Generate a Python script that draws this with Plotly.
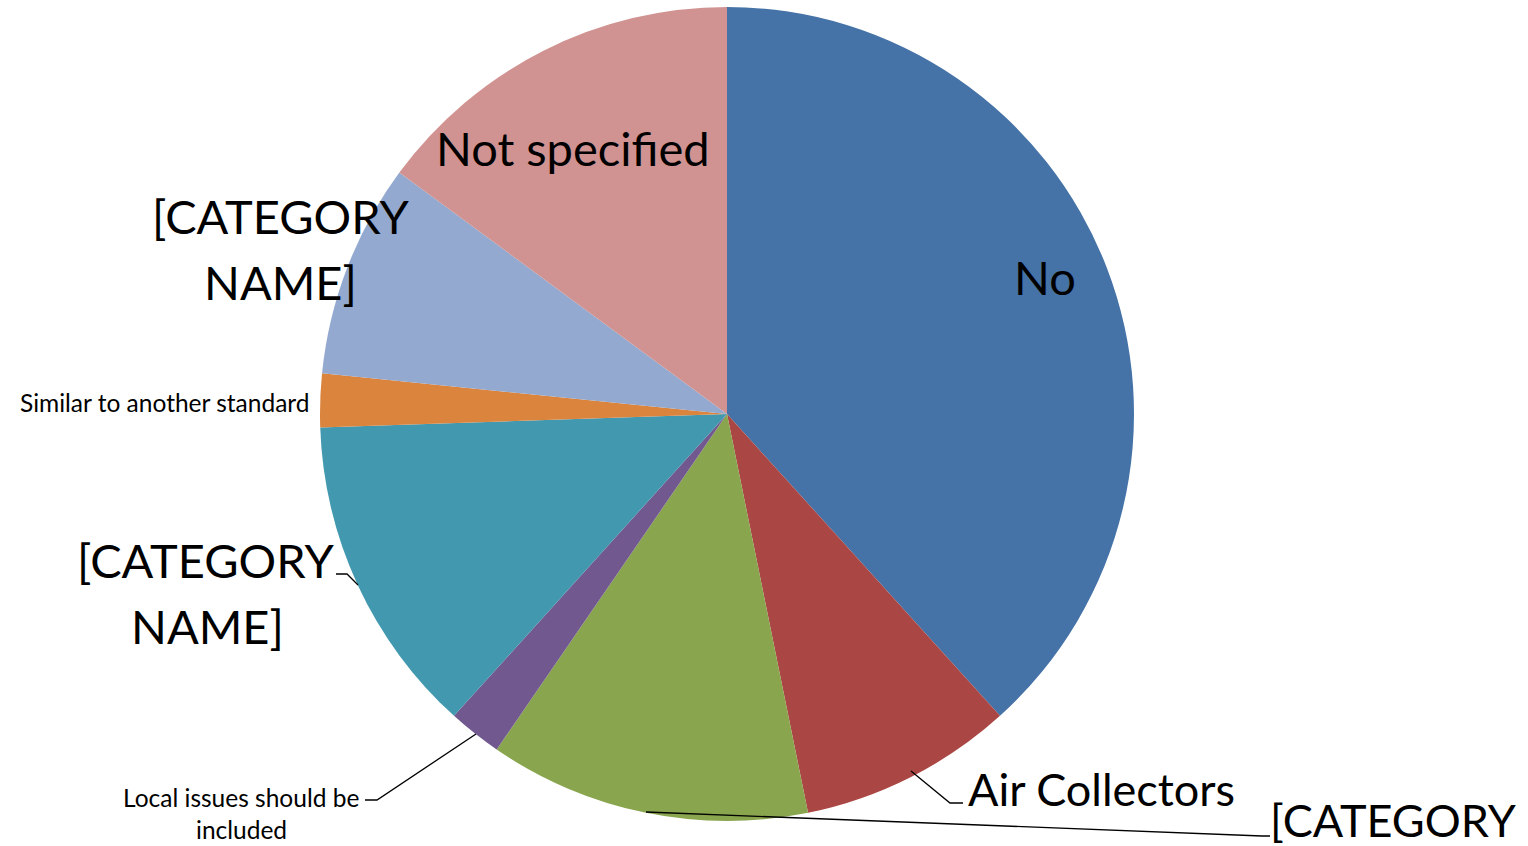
import plotly.graph_objects as go

W, H = 1528, 846

# ---- data ----
categories = ["No", "Air Collectors", "[CATEGORY NAME] (green)", "Local issues should be included",
              "[CATEGORY NAME] (teal)", "Similar to another standard", "[CATEGORY NAME] (light blue)",
              "Not specified"]
values = [18, 4, 6, 1, 6, 1, 4, 7]
colors = ["#4572A7", "#AA4643", "#89A54E", "#71588F", "#4198AF", "#DB843D", "#93A9CF", "#D19392"]

# ---- style / layout ----
FONT = "Lato"
BIG = 47
SMALL = 24.5
cx, cy, R = 727, 414, 407


def px(x, y):
    return x / W, 1 - y / H


fig = go.Figure(go.Pie(
    labels=categories, values=values, sort=False, direction="clockwise", rotation=0,
    marker=dict(colors=colors, line=dict(width=0)),
    textinfo="none", hoverinfo="label+value+percent", showlegend=False,
    domain=dict(x=[(cx - R) / W, (cx + R) / W], y=[1 - (cy + R) / H, 1 - (cy - R) / H]),
))

# label text lines: (text, x, y, size, xanchor)
label_lines = [
    ("No", 1045, 277, BIG, "center"),
    ("Not specified", 573, 148, BIG, "center"),
    ("[CATEGORY", 280, 216, BIG, "center"),
    ("NAME]", 280, 282, BIG, "center"),
    ("Similar to another standard", 312, 403, SMALL, "right"),
    ("[CATEGORY", 205, 560, BIG, "center"),
    ("NAME]", 207, 626, BIG, "center"),
    ("Local issues should be", 241, 797, SMALL, "center"),
    ("included", 241, 829, SMALL, "center"),
    ("Air Collectors", 966, 789, BIG - 2, "left"),
    ("[CATEGORY", 1519, 820, BIG - 2, "right"),
]
annotations = []
for t, x, y, s, xa in label_lines:
    xp, yp = px(x, y)
    annotations.append(dict(text=t, x=xp, y=yp, xref="paper", yref="paper", xanchor=xa,
                            yanchor="middle", showarrow=False,
                            font=dict(family=FONT, size=s, color="black")))

leaders = [
    [(336, 574), (347, 574), (358, 585)],
    [(365, 800), (377, 800), (476, 734)],
    [(911, 771), (950, 803), (963, 803)],
    [(646, 812), (1262, 836), (1270, 836)],
]
shapes = []
for pts in leaders:
    path = ""
    for i, (x, y) in enumerate(pts):
        xp, yp = px(x, y)
        path += ("M" if i == 0 else "L") + f"{xp},{yp} "
    shapes.append(dict(type="path", path=path.strip(), xref="paper", yref="paper",
                       line=dict(color="black", width=1.3)))

fig.update_layout(width=W, height=H, margin=dict(l=0, r=0, t=0, b=0),
                  paper_bgcolor="white", plot_bgcolor="white",
                  annotations=annotations, shapes=shapes)
fig.write_html("out.html")
